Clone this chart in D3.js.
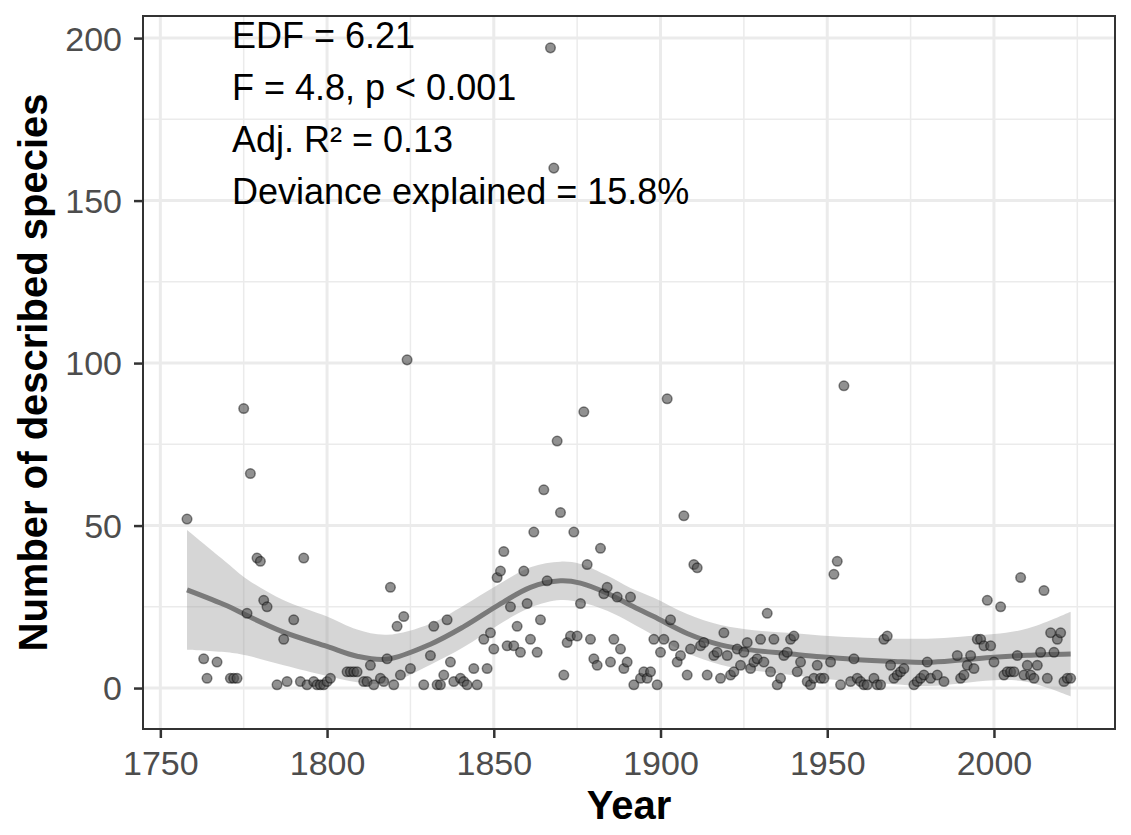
<!DOCTYPE html>
<html>
<head>
<meta charset="utf-8">
<script src="https://cdn.jsdelivr.net/npm/d3@7"></script>
<style>
  body { margin: 0; background: #fff; }
  svg { display: block; font-family: "Liberation Sans", Arial, Helvetica, sans-serif; }
  .axis text { font-size: 34px; fill: #4d4d4d; }
  .axis line { stroke: #333; stroke-width: 2.5; }
  .title { font-size: 40px; font-weight: bold; fill: #000; }
  .stat { font-size: 36px; fill: #000; }
</style>
</head>
<body>
<svg id="chart"></svg>
<script>
// Observed species descriptions per year
const years = [1758,1763,1764,1767,1771,1772,1773,1775,1776,1777,1779,1780,1781,1782,1785,1787,1788,1790,1792,1793,
  1794,1796,1797,1798,1799,1800,1801,1806,1807,1808,1809,1811,1812,1813,1814,1816,1817,1818,1819,1820,
  1821,1822,1823,1824,1825,1829,1831,1832,1833,1834,1835,1836,1837,1838,1840,1841,1842,1844,1845,1847,
  1848,1849,1850,1851,1852,1853,1854,1855,1856,1857,1858,1859,1860,1861,1862,1863,1864,1865,1866,1867,
  1868,1869,1870,1871,1872,1873,1874,1875,1876,1877,1878,1879,1880,1881,1882,1883,1884,1885,1886,1887,
  1888,1889,1890,1891,1892,1894,1895,1896,1897,1898,1899,1900,1901,1902,1903,1904,1905,1906,1907,1908,
  1909,1910,1911,1912,1913,1914,1916,1917,1918,1919,1920,1921,1922,1923,1924,1925,1926,1927,1928,1929,
  1930,1931,1932,1933,1934,1935,1936,1937,1938,1939,1940,1941,1942,1944,1945,1946,1947,1948,1949,1951,
  1952,1953,1954,1955,1957,1958,1959,1960,1961,1962,1964,1965,1966,1967,1968,1969,1970,1971,1972,1973,
  1976,1977,1978,1979,1980,1981,1983,1985,1989,1990,1991,1992,1993,1994,1995,1996,1997,1998,1999,2000,
  2002,2003,2004,2005,2006,2007,2008,2009,2010,2011,2012,2013,2014,2015,2016,2017,2018,2019,2020,2021,
  2022,2023];
const species = [52,9,3,8,3,3,3,86,23,66,40,39,27,25,1,15,2,21,2,40,
  1,2,1,1,1,2,3,5,5,5,5,2,2,7,1,3,2,9,31,1,
  19,4,22,101,6,1,10,19,1,1,4,21,8,2,3,2,1,6,1,15,
  6,17,12,34,36,42,13,25,13,19,11,36,26,15,48,11,21,61,33,197,
  160,76,54,4,14,16,48,16,26,85,38,15,9,7,43,29,31,8,15,28,
  12,6,8,28,1,3,5,3,5,15,1,11,15,89,21,13,8,10,53,4,
  12,38,37,13,14,4,10,11,3,17,10,4,5,12,7,11,14,6,8,9,
  15,8,23,5,15,1,3,10,11,15,16,5,8,2,1,3,7,3,3,8,
  35,39,1,93,2,9,3,2,1,1,3,1,1,15,16,7,3,4,5,6,
  1,2,3,4,8,3,4,2,10,3,4,7,10,6,15,15,13,27,13,8,
  25,4,5,5,5,10,34,4,7,4,3,7,11,30,3,17,11,15,17,2,
  3,3];

// GAM smooth: fit and 95% band
const fitYears = [1758,1770,1776,1787,1800,1809,1818,1831,1841,1851,1861,1870,1876,1884,1891,1898,1908,1918,1928,1938,1948,1958,1970,1980,1990,2000,2010,2023];
const fitValues = [30.2,25.3,22.3,17.2,12.8,9.8,8.9,13.5,18.9,25.3,31.0,33.0,32.3,29.2,25.5,22.0,16.8,13.3,11.6,10.6,9.6,8.8,8.2,7.9,8.6,9.5,10.1,10.5];
const fitUpper = [48.6,38.5,33.5,27.0,22.0,18.0,16.4,19.8,25.4,31.6,37.2,38.9,38.2,34.6,30.8,27.8,22.8,19.4,17.8,17.0,16.2,15.6,15.2,15.2,15.8,16.6,18.3,23.5];
const fitLower = [11.8,11.0,10.0,7.0,3.7,1.8,1.5,7.2,12.6,19.2,24.8,27.1,26.4,23.8,20.2,16.2,10.8,7.2,5.4,4.2,3.0,2.0,1.2,0.6,1.4,2.4,1.9,-2.5];

const xTicks = [1750, 1800, 1850, 1900, 1950, 2000];
const xMinor = [1775, 1825, 1875, 1925, 1975, 2025];
const yTicks = [0, 50, 100, 150, 200];
const yMinor = [25, 75, 125, 175];
const statLines = ['EDF = 6.21', 'F = 4.8, p < 0.001', 'Adj. R\u00B2 = 0.13', 'Deviance explained = 15.8%'];

const config = {
  width: 1131,
  height: 835,
  margin: { top: 16, right: 16, bottom: 106, left: 143 }
};

const w = config.width - config.margin.left - config.margin.right;
const h = config.height - config.margin.top - config.margin.bottom;

const svg = d3.select('#chart')
  .attr('width', config.width)
  .attr('height', config.height);

const chart = svg.append('g')
  .attr('transform', `translate(${config.margin.left},${config.margin.top})`);

const xScale = d3.scaleLinear().domain([1744.8, 2036.3]).range([0, w]);
const yScale = d3.scaleLinear().domain([-12.6, 206.8]).range([h, 0]);

// grid: minor first, then major
chart.append('g').selectAll('line').data(xMinor.filter(d => xScale(d) <= w)).join('line')
  .attr('x1', d => xScale(d)).attr('x2', d => xScale(d))
  .attr('y1', 0).attr('y2', h)
  .attr('stroke', '#ebebeb').attr('stroke-width', 1.5);
chart.append('g').selectAll('line').data(yMinor).join('line')
  .attr('x1', 0).attr('x2', w)
  .attr('y1', d => yScale(d)).attr('y2', d => yScale(d))
  .attr('stroke', '#ebebeb').attr('stroke-width', 1.5);
chart.append('g').selectAll('line').data(xTicks).join('line')
  .attr('x1', d => xScale(d)).attr('x2', d => xScale(d))
  .attr('y1', 0).attr('y2', h)
  .attr('stroke', '#ebebeb').attr('stroke-width', 3);
chart.append('g').selectAll('line').data(yTicks).join('line')
  .attr('x1', 0).attr('x2', w)
  .attr('y1', d => yScale(d)).attr('y2', d => yScale(d))
  .attr('stroke', '#ebebeb').attr('stroke-width', 3);

// confidence band + smooth
const band = fitYears.map((yr, i) => ({ yr, fit: fitValues[i], lo: fitLower[i], hi: fitUpper[i] }));
const curve = d3.curveCatmullRom.alpha(0.5);

chart.append('path')
  .datum(band)
  .attr('fill', '#999999')
  .attr('fill-opacity', 0.4)
  .attr('d', d3.area().curve(curve)
    .x(d => xScale(d.yr))
    .y0(d => yScale(d.lo))
    .y1(d => yScale(d.hi)));

chart.append('path')
  .datum(band)
  .attr('fill', 'none')
  .attr('stroke', '#7a7a7a')
  .attr('stroke-width', 5)
  .attr('d', d3.line().curve(curve)
    .x(d => xScale(d.yr))
    .y(d => yScale(d.fit)));

// points
const pts = years.map((yr, i) => ({ yr, n: species[i] }));
chart.append('g').selectAll('circle').data(pts).join('circle')
  .attr('cx', d => xScale(d.yr))
  .attr('cy', d => yScale(d.n))
  .attr('r', 4.8)
  .attr('fill', '#4d4d4d')
  .attr('fill-opacity', 0.62)
  .attr('stroke', '#000')
  .attr('stroke-opacity', 0.45)
  .attr('stroke-width', 1.5);

// panel border
chart.append('rect')
  .attr('width', w).attr('height', h)
  .attr('fill', 'none')
  .attr('stroke', '#333')
  .attr('stroke-width', 2);

// axes
const xAxisG = chart.append('g')
  .attr('class', 'axis')
  .attr('transform', `translate(0,${h})`)
  .call(d3.axisBottom(xScale).tickValues(xTicks).tickFormat(d3.format('d')).tickSize(9).tickPadding(13));
xAxisG.select('.domain').remove();

const yAxisG = chart.append('g')
  .attr('class', 'axis')
  .call(d3.axisLeft(yScale).tickValues(yTicks).tickSize(9).tickPadding(12));
yAxisG.select('.domain').remove();
yAxisG.selectAll('text').attr('dy', '0.35em');

// statistics annotation
chart.append('g').selectAll('text').data(statLines).join('text')
  .attr('class', 'stat')
  .attr('x', 232 - config.margin.left)
  .attr('y', (d, i) => 32 + i * 52)
  .text(d => d);

// axis titles
svg.append('text')
  .attr('class', 'title')
  .attr('x', config.margin.left + w / 2)
  .attr('y', 819)
  .attr('text-anchor', 'middle')
  .text('Year');

svg.append('text')
  .attr('class', 'title')
  .attr('transform', `translate(47,${config.margin.top + h / 2}) rotate(-90)`)
  .attr('text-anchor', 'middle')
  .text('Number of described species');
</script>
</body>
</html>
